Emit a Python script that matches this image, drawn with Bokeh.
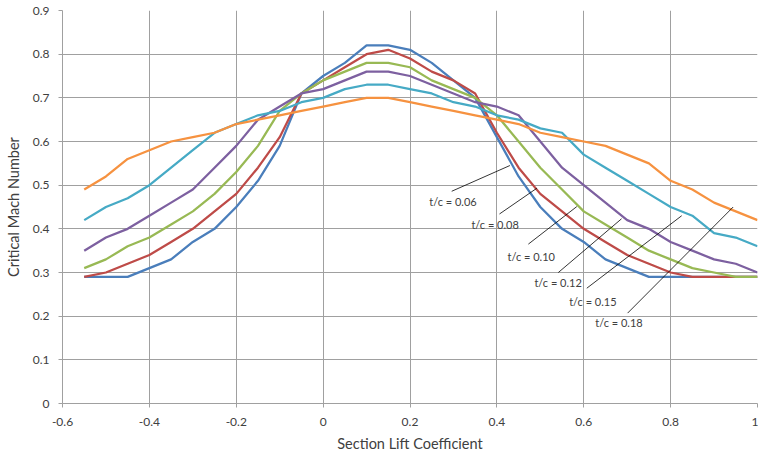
from bokeh.plotting import figure
from bokeh.models import Range1d, FixedTicker, ColumnDataSource
from bokeh.core.properties import value
from bokeh.embed import file_html
from bokeh.resources import INLINE

# ---- data -------------------------------------------------------------
lift_coeff = [-0.55, -0.50, -0.45, -0.40, -0.35, -0.30, -0.25, -0.20, -0.15, -0.10,
              -0.05, 0.00, 0.05, 0.10, 0.15, 0.20, 0.25, 0.30, 0.35, 0.40,
              0.45, 0.50, 0.55, 0.60, 0.65, 0.70, 0.75, 0.80, 0.85, 0.90,
              0.95, 1.00]

mach_tc006 = [0.29, 0.29, 0.29, 0.31, 0.33, 0.37, 0.40, 0.45, 0.51, 0.59,
              0.71, 0.75, 0.78, 0.82, 0.82, 0.81, 0.78, 0.74, 0.70, 0.61,
              0.52, 0.45, 0.40, 0.37, 0.33, 0.31, 0.29, 0.29, 0.29, 0.29,
              0.29, 0.29]
mach_tc008 = [0.29, 0.30, 0.32, 0.34, 0.37, 0.40, 0.44, 0.48, 0.54, 0.61,
              0.71, 0.74, 0.77, 0.80, 0.81, 0.79, 0.76, 0.74, 0.71, 0.62,
              0.54, 0.48, 0.44, 0.40, 0.37, 0.34, 0.32, 0.30, 0.29, 0.29,
              0.29, 0.29]
mach_tc010 = [0.31, 0.33, 0.36, 0.38, 0.41, 0.44, 0.48, 0.53, 0.59, 0.67,
              0.71, 0.74, 0.76, 0.78, 0.78, 0.77, 0.74, 0.72, 0.70, 0.66,
              0.60, 0.54, 0.49, 0.44, 0.41, 0.38, 0.35, 0.33, 0.31, 0.30,
              0.29, 0.29]
mach_tc012 = [0.35, 0.38, 0.40, 0.43, 0.46, 0.49, 0.54, 0.59, 0.65, 0.68,
              0.71, 0.72, 0.74, 0.76, 0.76, 0.75, 0.73, 0.71, 0.69, 0.68,
              0.66, 0.60, 0.54, 0.50, 0.46, 0.42, 0.40, 0.37, 0.35, 0.33,
              0.32, 0.30]
mach_tc015 = [0.42, 0.45, 0.47, 0.50, 0.54, 0.58, 0.62, 0.64, 0.66, 0.67,
              0.69, 0.70, 0.72, 0.73, 0.73, 0.72, 0.71, 0.69, 0.68, 0.66,
              0.65, 0.63, 0.62, 0.57, 0.54, 0.51, 0.48, 0.45, 0.43, 0.39,
              0.38, 0.36]
mach_tc018 = [0.49, 0.52, 0.56, 0.58, 0.60, 0.61, 0.62, 0.64, 0.65, 0.66,
              0.67, 0.68, 0.69, 0.70, 0.70, 0.69, 0.68, 0.67, 0.66, 0.65,
              0.64, 0.62, 0.61, 0.60, 0.59, 0.57, 0.55, 0.51, 0.49, 0.46,
              0.44, 0.42]

series = [mach_tc006, mach_tc008, mach_tc010, mach_tc012, mach_tc015, mach_tc018]
series_colors = ["#4A7EBB", "#BE4B48", "#98B954", "#7D60A0", "#46AAC5", "#F69240"]

x_ticks = [-0.6, -0.4, -0.2, 0.0, 0.2, 0.4, 0.6, 0.8, 1.0]
x_tick_labels = ["-0.6", "-0.4", "-0.2", "0", "0.2", "0.4", "0.6", "0.8", "1"]
y_ticks = [0.0, 0.1, 0.2, 0.3, 0.4, 0.5, 0.6, 0.7, 0.8, 0.9]
y_tick_labels = ["0", "0.1", "0.2", "0.3", "0.4", "0.5", "0.6", "0.7", "0.8", "0.9"]

# annotation labels with leader lines
ann_text = ["t/c = 0.06", "t/c = 0.08", "t/c = 0.10", "t/c = 0.12", "t/c = 0.15", "t/c = 0.18"]
ann_text_x = [0.299, 0.396, 0.479, 0.541, 0.621, 0.681]
ann_text_y = [0.462, 0.410, 0.337, 0.278, 0.234, 0.185]
lead_x0 = [0.296, 0.406, 0.4725, 0.5415, 0.607, 0.701]
lead_y0 = [0.486, 0.434, 0.365, 0.300, 0.264, 0.207]
lead_x1 = [0.430, 0.492, 0.584, 0.687, 0.8255, 0.944]
lead_y1 = [0.545, 0.493, 0.451, 0.423, 0.430, 0.450]

FONT = "Lato"
GRID = "#A0A0A0"
TEXT = "#404040"

p = figure(width=758, height=459, output_backend="svg", toolbar_location=None,
           x_range=Range1d(-0.6, 1.0), y_range=Range1d(0, 0.9),
           min_border_left=62, min_border_right=1, min_border_top=10,
           min_border_bottom=56)
p.outline_line_color = None
p.background_fill_color = "white"
p.border_fill_color = "white"

for ys, c in zip(series, series_colors):
    p.line(lift_coeff, ys, line_color=c, line_width=2.25)

p.segment(x0=lead_x0, y0=lead_y0, x1=lead_x1, y1=lead_y1,
          line_color="black", line_width=0.8)

src = ColumnDataSource(dict(x=ann_text_x, y=ann_text_y, t=ann_text))
p.text(x="x", y="y", text="t", source=src, text_font=value(FONT),
       text_font_size="11px", text_align="center", text_baseline="middle",
       text_color=TEXT)

for ax, ticks, labels in ((p.xaxis, x_ticks, x_tick_labels), (p.yaxis, y_ticks, y_tick_labels)):
    ax.ticker = FixedTicker(ticks=ticks)
    ax.major_label_overrides = dict(zip(ticks, labels))
    ax.minor_tick_line_color = None
    ax.major_tick_in = 0
    ax.major_tick_out = 4
    ax.axis_line_color = GRID
    ax.major_tick_line_color = GRID
    ax.major_label_text_font = FONT
    ax.major_label_text_font_size = "12px"
    ax.major_label_text_color = TEXT
    ax.axis_label_text_font = FONT
    ax.axis_label_text_font_size = "14.5px"
    ax.axis_label_text_font_style = "normal"
    ax.axis_label_text_color = TEXT

p.xaxis.axis_label = "Section Lift Coefficient"
p.yaxis.axis_label = "Critical Mach Number"
p.xaxis.major_label_standoff = 10
p.yaxis.major_label_standoff = 9
p.xaxis.axis_label_standoff = 6
p.yaxis.axis_label_standoff = 8

p.xgrid.ticker = FixedTicker(ticks=x_ticks)
p.ygrid.ticker = FixedTicker(ticks=y_ticks)
p.grid.grid_line_color = GRID
p.grid.grid_line_width = 1

open("out.html", "w").write(file_html(p, INLINE))
